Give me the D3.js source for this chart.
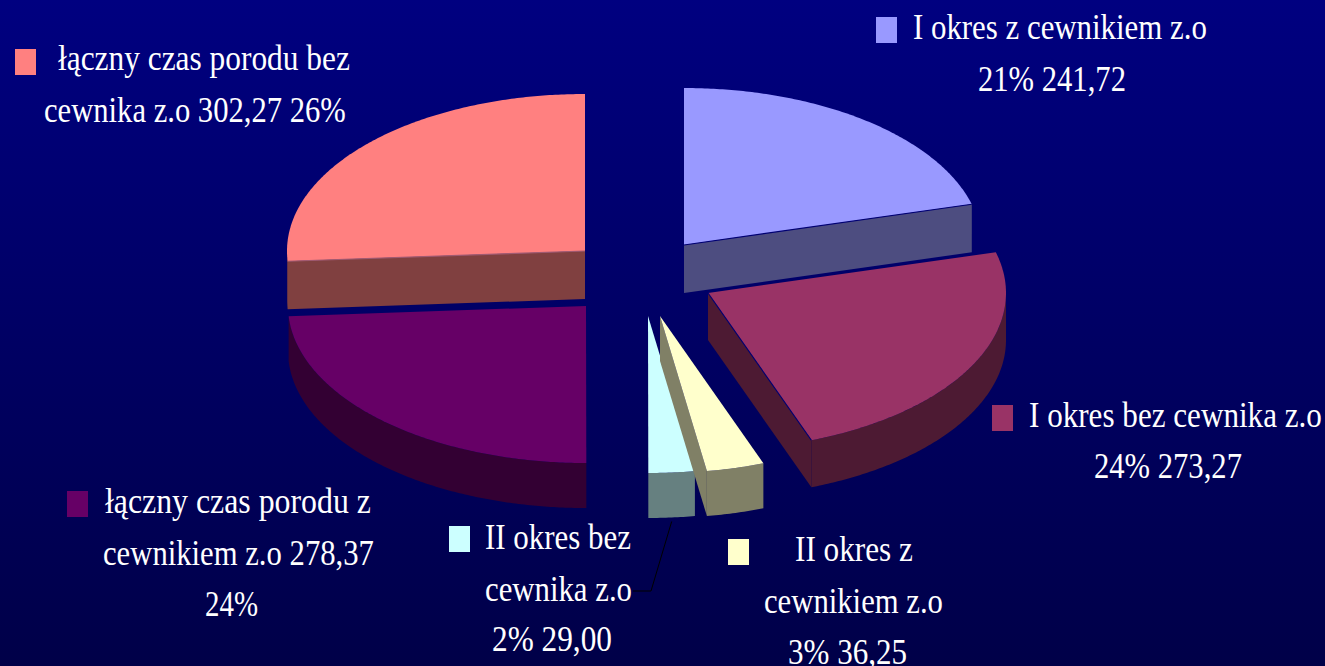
<!DOCTYPE html>
<html>
<head>
<meta charset="utf-8">
<style>
  html, body { margin: 0; padding: 0; background: #000060; overflow: hidden; }
  svg { display: block; }
  text { font-family: "Liberation Serif", serif; font-size: 36px; fill: #fff; }
</style>
</head>
<body>
<div id="chart-container"></div>
<script src="https://cdn.jsdelivr.net/npm/d3@7/dist/d3.min.js"></script>
<script>
const width = 1325, height = 666;

// dane
const categories = ["I okres z cewnikiem z.o", "I okres bez cewnika z.o", "II okres z cewnikiem z.o",
  "II okres bez cewnika z.o", "łączny czas porodu z cewnikiem z.o", "łączny czas porodu bez cewnika z.o"];
const values = [241.72, 273.27, 36.25, 29.00, 278.37, 302.27];
const topColors = ["#9999ff", "#993366", "#ffffcc", "#ccffff", "#660066", "#ff8080"];
const sideColors = ["#4d4d80", "#4d1a33", "#808066", "#668080", "#330033", "#804040"];
const edgeColors = ["#000070", "#000070", null, null, null, "#a05a70"];

// rozsuniecie kawalkow i grubosc
const explodeX = [49, 73, 25, 13, -49, -50];
const explodeY = [-35, 13, 36, 36, 26, -29];
const depths = [48, 47, 45, 45, 45, 48];
const drawOrder = [0, 5, 4, 3, 2, 1];

// opisy: linie tekstu, [x od, x do, baseline]
const labelLines = [
  ["I okres z cewnikiem z.o", 913, 1207, 39],
  ["21% 241,72", 978, 1126, 91],
  ["I okres bez cewnika z.o", 1029, 1322, 427],
  ["24% 273,27", 1094, 1242, 478],
  ["II okres z", 795, 913, 561],
  ["cewnikiem z.o", 764, 943, 613],
  ["3% 36,25", 788, 907, 664],
  ["II okres bez", 485, 631, 549],
  ["cewnika z.o", 485, 632, 601],
  ["2% 29,00", 492, 612, 651],
  ["łączny czas porodu z", 105, 371, 513],
  ["cewnikiem z.o 278,37", 103, 374, 565],
  ["24%", 205, 258, 616],
  ["łączny czas porodu bez", 58, 350, 70],
  ["cewnika z.o 302,27 26%", 44, 346, 122]
];
const swatchX = [876, 992, 728, 449, 67, 15];
const swatchY = [17, 405, 539, 526, 491, 49];

const svg = d3.select("#chart-container")
  .append("svg")
  .attr("width", width)
  .attr("height", height)
  .attr("viewBox", `0 0 ${width} ${height}`);

const grad = svg.append("defs").append("linearGradient")
  .attr("id", "bg").attr("x1", 0).attr("y1", 0).attr("x2", 0).attr("y2", 1);
grad.append("stop").attr("offset", "0%").attr("stop-color", "#000080");
grad.append("stop").attr("offset", "100%").attr("stop-color", "#000048");

svg.append("rect").attr("width", width).attr("height", height).attr("fill", "url(#bg)");

// elipsa kola w rzucie
const cx = 635, cy = 280, rx = 298, ry = 157;
const xs = d3.scaleLinear().domain([-1, 1]).range([cx - rx, cx + rx]);
const ys = d3.scaleLinear().domain([-1, 1]).range([cy + ry, cy - ry]);

const arcs = d3.pie().sort(null).value(d => d)(values);

const point = (i, a, drop = 0) => [xs(Math.sin(a)) + explodeX[i], ys(Math.cos(a)) + explodeY[i] + drop];
const apex = (i, drop = 0) => [xs(0) + explodeX[i], ys(0) + explodeY[i] + drop];
const steps = (a0, a1) => {
  const n = Math.max(2, Math.ceil((a1 - a0) / 0.01));
  return d3.range(n + 1).map(k => a0 + (a1 - a0) * k / n);
};
const line = d3.line();

const g = svg.append("g");

drawOrder.forEach(i => {
  const a = arcs[i], d = depths[i];
  const slice = g.append("g");

  // sciana przekroju widoczna, gdy kawalek lezy nad krawedzia
  const faces = [];
  if (a.endAngle < Math.PI) faces.push(a.endAngle);
  if (a.startAngle > Math.PI) faces.push(a.startAngle);

  faces.forEach(f => {
    slice.append("path")
      .attr("d", line([apex(i), point(i, f), point(i, f, d), apex(i, d)]) + "Z")
      .attr("fill", sideColors[i]);
  });

  // boczna krawedz - tylko dolna polowa elipsy
  const r0 = Math.max(a.startAngle, Math.PI / 2), r1 = Math.min(a.endAngle, Math.PI * 1.5);
  if (r1 > r0) {
    const st = steps(r0, r1);
    const pts = st.map(t => point(i, t)).concat(st.slice().reverse().map(t => point(i, t, d)));
    slice.append("path").attr("d", line(pts) + "Z").attr("fill", sideColors[i]);
  }

  // wierzch
  const topPts = [apex(i)].concat(steps(a.startAngle, a.endAngle).map(t => point(i, t)));
  slice.append("path").attr("d", line(topPts) + "Z").attr("fill", topColors[i]);

  // cienka linia na styku wierzchu i sciany
  if (edgeColors[i]) {
    faces.forEach(f => {
      slice.append("path")
        .attr("d", line([apex(i), point(i, f)]))
        .attr("stroke", edgeColors[i])
        .attr("stroke-width", 1.2)
        .attr("fill", "none");
    });
  }
});

// linia odniesienia do "II okres bez cewnika"
const midAngle = (arcs[3].startAngle + arcs[3].endAngle) / 2;
const leadStart = point(3, midAngle, depths[3] + 4);
svg.append("path")
  .attr("d", line([leadStart, [651, 591], [633, 591]]))
  .attr("fill", "none")
  .attr("stroke", "#000")
  .attr("stroke-width", 1);

// legenda
svg.selectAll("rect.swatch")
  .data(categories)
  .join("rect")
    .attr("class", "swatch")
    .attr("x", (d, i) => swatchX[i])
    .attr("y", (d, i) => swatchY[i])
    .attr("width", 21)
    .attr("height", 26)
    .attr("fill", (d, i) => topColors[i]);

// tekst jest w oryginale zwezony, skala pozioma wg zmierzonej szerokosci
svg.selectAll("text.label")
  .data(labelLines)
  .join("text")
    .attr("class", "label")
    .text(d => d[0])
    .attr("transform", function(d) {
      const sx = (d[2] - d[1]) / this.getComputedTextLength();
      return `translate(${d[1]},${d[3]}) scale(${sx},1)`;
    });
</script>
</body>
</html>
